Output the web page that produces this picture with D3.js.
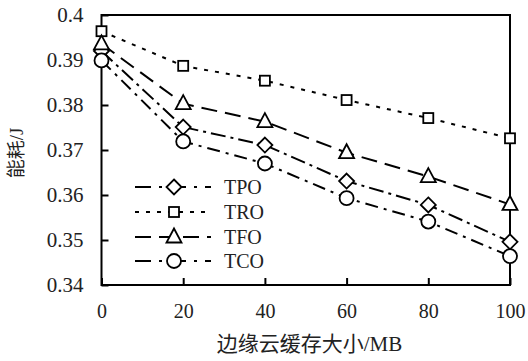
<!DOCTYPE html>
<meta charset="utf-8">
<head>
  <title>边缘云缓存大小 能耗</title>
</head>
<style>
body { margin: 0; background: #fff; }
text { font-family: "Liberation Serif", "DejaVu Serif", serif; }
.axis path, .axis line { stroke: #000; stroke-width: 2px; }
</style>
<body>
<script src="https://cdn.jsdelivr.net/npm/d3@7"></script>
<script>

var sizes = [0, 20, 40, 60, 80, 100];
var seriesNames = ["TPO", "TRO", "TFO", "TCO"];
var tpo = [0.3920, 0.3751, 0.3711, 0.3631, 0.3578, 0.3496];
var tro = [0.3964, 0.3887, 0.3854, 0.3811, 0.3771, 0.3726];
var tfo = [0.3936, 0.3803, 0.3763, 0.3694, 0.3641, 0.3579];
var tco = [0.3899, 0.3719, 0.3670, 0.3593, 0.3541, 0.3464];
var xTicks = [0, 20, 40, 60, 80, 100];
var yTicks = [0.34, 0.35, 0.36, 0.37, 0.38, 0.39, 0.4];

var width = 528, height = 361;
var svg = d3.select("body").append("svg")
    .attr("width", width)
    .attr("height", height);

var x = d3.scaleLinear().domain([0, 100]).range([101.5, 510]);
var y = d3.scaleLinear().domain([0.34, 0.4]).range([285, 15]);

// rahmen
svg.append("rect")
  .attr("x", x(0)).attr("y", y(0.4))
  .attr("width", x(100) - x(0)).attr("height", y(0.34) - y(0.4))
  .attr("fill", "none").attr("stroke", "#000").attr("stroke-width", 2);

var xAxis = svg.append("g").attr("class", "axis")
  .attr("transform", "translate(0," + y(0.34) + ")")
  .call(d3.axisBottom(x).tickValues(xTicks).tickSizeInner(-7).tickSizeOuter(0).tickPadding(19));
var yAxis = svg.append("g").attr("class", "axis")
  .attr("transform", "translate(" + x(0) + ",0)")
  .call(d3.axisLeft(y).tickValues(yTicks).tickSizeInner(-7).tickSizeOuter(0).tickPadding(18)
    .tickFormat(function(d) { return d3.format("")(+d.toFixed(2)); }));
xAxis.selectAll("text").attr("font-size", 20);
yAxis.selectAll("text").attr("font-size", 21);
svg.selectAll(".axis text").attr("fill", "#222")
  .style("font-family", "'Liberation Serif', serif");
svg.selectAll(".axis .domain").remove();

var series = [
  {name: "TPO", values: tpo, dash: "15,5,3,5", mark: "diamond"},
  {name: "TRO", values: tro, dash: "4,7", mark: "square"},
  {name: "TFO", values: tfo, dash: "16,8", mark: "triangle"},
  {name: "TCO", values: tco, dash: "13,6,3,6", mark: "circle"}
];

function drawMark(g, type, cx, cy) {
  if (type === "diamond") {
    g.append("path").attr("d", "M" + cx + "," + (cy - 7.5) + "L" + (cx + 7.5) + "," + cy +
      "L" + cx + "," + (cy + 7.5) + "L" + (cx - 7.5) + "," + cy + "Z");
  } else if (type === "square") {
    g.append("rect").attr("x", cx - 5).attr("y", cy - 5).attr("width", 10).attr("height", 10);
  } else if (type === "triangle") {
    g.append("path").attr("d", "M" + cx + "," + (cy - 8.5) + "L" + (cx + 7.5) + "," + (cy + 5.5) +
      "L" + (cx - 7.5) + "," + (cy + 5.5) + "Z");
  } else {
    g.append("circle").attr("cx", cx).attr("cy", cy).attr("r", 7);
  }
}

var line = d3.line()
  .x(function(d, i) { return x(sizes[i]); })
  .y(function(d) { return y(d); });

series.forEach(function(s) {
  svg.append("path")
    .datum(s.values)
    .attr("d", line)
    .attr("fill", "none")
    .attr("stroke", "#000")
    .attr("stroke-width", 2)
    .attr("stroke-dasharray", s.dash);
});
series.forEach(function(s) {
  var g = svg.append("g").attr("fill", "#fff").attr("stroke", "#000").attr("stroke-width", 1.8);
  s.values.forEach(function(v, i) { drawMark(g, s.mark, x(sizes[i]), y(v)); });
});

// legende
var legendY = [187, 212, 237, 261];
series.forEach(function(s, i) {
  var g = svg.append("g");
  g.append("line")
    .attr("x1", 135).attr("x2", 211)
    .attr("y1", legendY[i]).attr("y2", legendY[i])
    .attr("stroke", "#000").attr("stroke-width", 2)
    .attr("stroke-dasharray", s.name === "TRO" ? "4,7" : (s.name === "TFO" ? "16,8" : "16,8,3,8"));
  var m = g.append("g").attr("fill", "#fff").attr("stroke", "#000").attr("stroke-width", 1.8);
  drawMark(m, s.mark, 174, legendY[i]);
  g.append("text")
    .attr("x", 224).attr("y", legendY[i] + 7)
    .attr("font-size", 20).attr("fill", "#222")
    .text(s.name);
});

var xl = svg.append("text")
  .attr("x", (207 + 412) / 2).attr("y", 351)
  .attr("text-anchor", "middle")
  .attr("font-size", 21).attr("fill", "#222")
  .style("font-family", "'Noto Sans CJK SC', sans-serif");
xl.append("tspan").text("边缘云缓存大小");
xl.append("tspan").style("font-family", "'Liberation Serif', serif").text("/MB");

var yl = svg.append("text")
  .attr("transform", "translate(23,153) rotate(-90)")
  .attr("text-anchor", "middle")
  .attr("font-size", 19).attr("fill", "#222")
  .style("font-family", "'Noto Sans CJK SC', sans-serif");
yl.append("tspan").text("能耗");
yl.append("tspan").style("font-family", "'Liberation Serif', serif").text("/J");

</script>
</body>
